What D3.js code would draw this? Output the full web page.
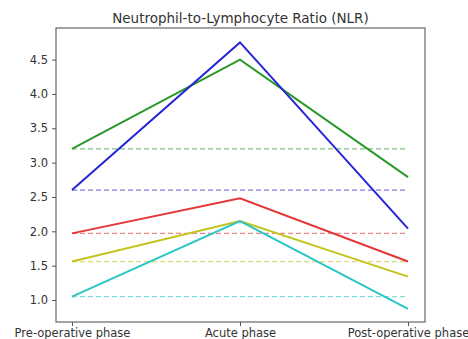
<!DOCTYPE html>
<html>
<head>
<meta charset="utf-8">
<script src="https://cdn.jsdelivr.net/npm/d3@7"></script>
<style>
	body { margin: 0; background: #fff; }
	text { font-family: "DejaVu Sans", sans-serif; fill: #333; }
</style>
</head>
<body>
<svg id="chart" width="468" height="339"></svg>
<script>
"use strict";

var phases = ["Pre-operative phase", "Acute phase", "Post-operative phase"];
var greenVals = [3.2, 4.5, 2.79];
var blueVals = [2.6, 4.75, 2.04];
var redVals = [1.97, 2.48, 1.56];
var yellowVals = [1.56, 2.15, 1.34];
var cyanVals = [1.05, 2.15, 0.87];
var yTicks = [1.0, 1.5, 2.0, 2.5, 3.0, 3.5, 4.0, 4.5];

var series = [
	{ vals: greenVals, color: "#2a992a" },
	{ vals: blueVals, color: "#2626d9" },
	{ vals: redVals, color: "#e63535" },
	{ vals: yellowVals, color: "#c4c41e" },
	{ vals: cyanVals, color: "#28c6c6" }
];

var svg = d3.select("#chart");
var plotL = 56, plotR = 425, plotT = 28, plotB = 322;

var x = d3.scalePoint().domain(phases).range([72, 408]);
var y = d3.scaleLinear().domain([0.68, 4.96]).range([plotB, plotT]);

// baselines first (dashed)
series.forEach(function(s){
	svg.append("line")
		.attr("x1", x(phases[0]))
		.attr("x2", x(phases[2]))
		.attr("y1", y(s.vals[0]))
		.attr("y2", y(s.vals[0]))
		.attr("stroke", s.color)
		.attr("stroke-opacity", 0.6)
		.attr("stroke-width", 1.3)
		.attr("stroke-dasharray", "5,3");
});

var line = d3.line()
	.x(function(d, i){ return x(phases[i]); })
	.y(function(d){ return y(d); });

series.forEach(function(s){
	svg.append("path")
		.datum(s.vals)
		.attr("d", line)
		.attr("fill", "none")
		.attr("stroke", s.color)
		.attr("stroke-width", 2);
});

// frame
svg.append("rect")
	.attr("x", plotL).attr("y", plotT)
	.attr("width", plotR - plotL).attr("height", plotB - plotT)
	.attr("fill", "none")
	.attr("stroke", "#666")
	.attr("stroke-width", 1.2);

var yAxis = d3.axisLeft(y).tickValues(yTicks).tickFormat(d3.format(".1f")).tickSize(4).tickPadding(4);
var gy = svg.append("g").attr("transform", "translate(" + plotL + ",0)").call(yAxis);
gy.select(".domain").remove();
gy.selectAll("line").attr("stroke", "#555");
gy.selectAll("text").style("font-size", "11.5px").attr("fill", "#333");

var xAxis = d3.axisBottom(x).tickSize(4).tickPadding(3);
var gx = svg.append("g").attr("transform", "translate(0," + plotB + ")").call(xAxis);
gx.select(".domain").remove();
gx.selectAll("line").attr("stroke", "#555");
gx.selectAll("text").style("font-size", "11.5px").attr("fill", "#333");

svg.append("text")
	.attr("x", (plotL + plotR) / 2)
	.attr("y", 23)
	.attr("text-anchor", "middle")
	.style("font-size", "13.5px")
	.text("Neutrophil-to-Lymphocyte Ratio (NLR)");
</script>
</body>
</html>
